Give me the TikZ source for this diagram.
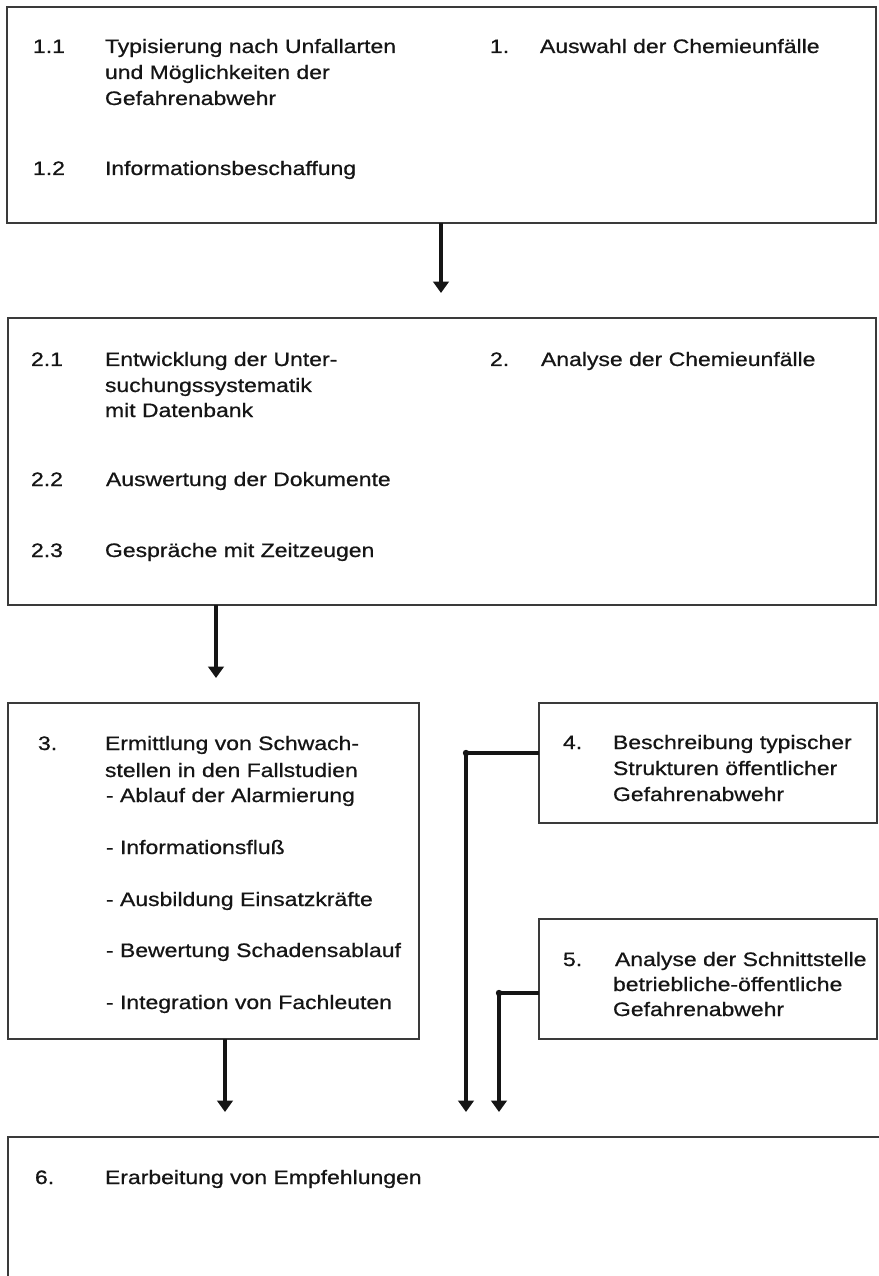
\documentclass[tikz,border=0pt]{standalone}
\usepackage{fontspec}
\setmainfont{Liberation Sans}[FakeStretch=1.18,FakeBold=0.7]
\usetikzlibrary{arrows.meta}
\definecolor{inkc}{HTML}{151515}
\definecolor{boxgray}{HTML}{3A3A3A}
\newcommand\pxu{0.75pt}
\newcommand\mytext{\fontsize{14.6}{19.5}\selectfont}
\begin{document}
\begin{tikzpicture}[x=0.75pt,y=-0.75pt,
  box/.style={draw=boxgray, line width=0.9pt, inner sep=0pt, outer sep=0pt, anchor=north west},
  txt/.style={anchor=base west, inner sep=0pt, outer sep=0pt, font=\mytext, text=inkc},
  conn/.style={line width=3pt, draw=inkc, line join=round, -{Triangle[width=11.5pt,length=8.5pt]}},
  knot/.style={fill=inkc}]
\useasboundingbox (0,0) rectangle (878,1276);
\fill[white] (0,0) rectangle (878,1276);

% boxes
\node[box, minimum width=869*\pxu, minimum height=216*\pxu] (b1) at (7,7) {};
\node[box, minimum width=868*\pxu, minimum height=287*\pxu] (b2) at (8,318) {};
\node[box, minimum width=411*\pxu, minimum height=336*\pxu] (b3) at (8,703) {};
\node[box, minimum width=338*\pxu, minimum height=120*\pxu] (b4) at (539,703) {};
\node[box, minimum width=338*\pxu, minimum height=120*\pxu] (b5) at (539,919) {};
\node[box, minimum width=880*\pxu, minimum height=200*\pxu] (b6) at (8,1137) {};

% box 1
\node[txt] (t11n) at (33,53) {1.1};
\node[txt] (t11a) at (105,53) {Typisierung nach Unfallarten};
\node[txt] (t11b) at (105,79) {und Möglichkeiten der};
\node[txt] (t11c) at (105,105) {Gefahrenabwehr};
\node[txt] (t12n) at (33,175) {1.2};
\node[txt] (t12a) at (105,175) {Informationsbeschaffung};
\node[txt] (t1n) at (490,53) {1.};
\node[txt] (t1a) at (540,53) {Auswahl der Chemieunfälle};

% box 2
\node[txt] (t21n) at (31,366) {2.1};
\node[txt] (t21a) at (105,366) {Entwicklung der Unter-};
\node[txt] (t21b) at (105,392) {suchungssystematik};
\node[txt] (t21c) at (105,417) {mit Datenbank};
\node[txt] (t22n) at (31,486) {2.2};
\node[txt] (t22a) at (106,486) {Auswertung der Dokumente};
\node[txt] (t23n) at (31,557) {2.3};
\node[txt] (t23a) at (105,557) {Gespräche mit Zeitzeugen};
\node[txt] (t2n) at (490,366) {2.};
\node[txt] (t2a) at (541,366) {Analyse der Chemieunfälle};

% box 3
\node[txt] (t3n) at (38,750) {3.};
\node[txt] (t3a) at (105,750) {Ermittlung von Schwach-};
\node[txt] (t3b) at (105,777) {stellen in den Fallstudien};
\node[txt] (t3c) at (106,802) {- Ablauf der Alarmierung};
\node[txt] (t3d) at (106,854) {- Informationsfluß};
\node[txt] (t3e) at (106,906) {- Ausbildung Einsatzkräfte};
\node[txt] (t3f) at (106,957) {- Bewertung Schadensablauf};
\node[txt] (t3g) at (106,1009) {- Integration von Fachleuten};

% box 4
\node[txt] (t4n) at (563,749) {4.};
\node[txt] (t4a) at (613,749) {Beschreibung typischer};
\node[txt] (t4b) at (613,775) {Strukturen öffentlicher};
\node[txt] (t4c) at (613,801) {Gefahrenabwehr};

% box 5
\node[txt] (t5n) at (563,966) {5.};
\node[txt] (t5a) at (615,966) {Analyse der Schnittstelle};
\node[txt] (t5b) at (613,991) {betriebliche-öffentliche};
\node[txt] (t5c) at (613,1016) {Gefahrenabwehr};

% box 6
\node[txt] (t6n) at (35,1184) {6.};
\node[txt] (t6a) at (105,1184) {Erarbeitung von Empfehlungen};

% connectors
\coordinate (a1) at (441,293);
\draw[conn] (b1.south -| a1) -- (a1);
\coordinate (a2) at (216,678);
\draw[conn] (b2.south -| a2) -- (a2);
\coordinate (a3) at (225,1112);
\draw[conn] (b3.south -| a3) -- (a3);
\coordinate (k4) at (466,753);
\coordinate (a4) at (466,1112);
\draw[conn] (b4.west |- k4) -- (k4) -- (a4);
\fill[knot] (k4) circle (3.2);
\coordinate (k5) at (499,993);
\coordinate (a5) at (499,1112);
\draw[conn] (b5.west |- k5) -- (k5) -- (a5);
\fill[knot] (k5) circle (3.2);
\end{tikzpicture}
\end{document}
